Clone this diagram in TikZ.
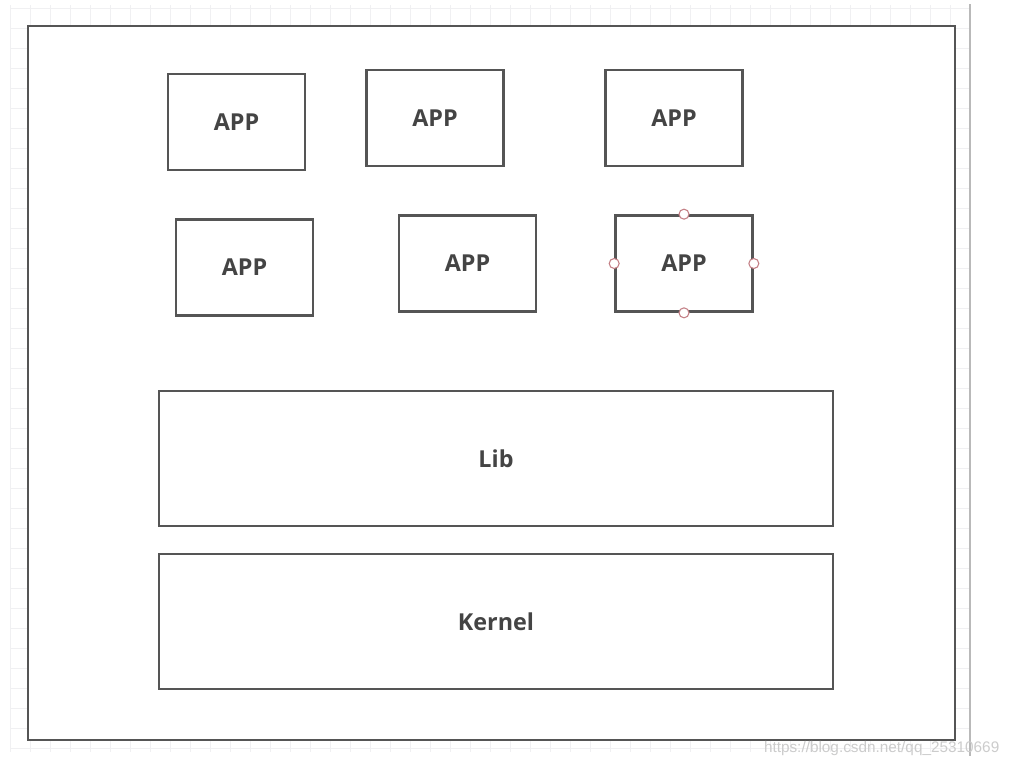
\documentclass[tikz,border=0pt]{standalone}
\usepackage{fontspec}
\setmainfont{Open Sans}
\newfontfamily\markfont{Liberation Sans}
\usepackage{tikz}
\usetikzlibrary{
  positioning,
}
\definecolor{boxgray}{RGB}{85, 85, 85}
\definecolor{labelgray}{RGB}{68, 68, 68}
\definecolor{gridgray}{RGB}{240, 240, 242}
\definecolor{handlered}{RGB}{196, 128, 134}
\tikzstyle{box} = [
  draw=boxgray,
  line width=2pt,
  fill=white,
  inner sep=0pt,
  font=\fontsize{17.5}{20}\selectfont\bfseries,
  text=labelgray,
]
\tikzstyle{appbox} = [box, minimum width=102.75pt, minimum height=72pt]
\tikzstyle{layerbox} = [box, minimum width=505.5pt, minimum height=101.25pt]
\tikzstyle{handle} = [
  circle,
  draw=handlered,
  fill=white,
  line width=0.8pt,
  minimum size=7.5pt,
  inner sep=0pt,
]

\begin{document}
\begin{tikzpicture}[x=0.75pt, y=-0.75pt]
      \useasboundingbox (0, 0) rectangle (1012, 768);
      \fill[white] (0, 0) rectangle (1012, 768);

      \foreach \gx in {10, 30, ..., 970}
        \draw[gridgray, line width=0.6pt] (\gx, 5) -- (\gx, 752);
      \foreach \gy in {8, 28, ..., 748}
        \draw[gridgray, line width=0.6pt] (10, \gy) -- (970, \gy);

      \draw[gray!55, line width=2.2pt] (970, 4) -- (970, 756);

      \draw[boxgray, line width=2pt, fill=white] (28, 26) rectangle (955, 740);

      \node [appbox] (app1) at (236.5, 122) {APP};
      \node [appbox] (app2) at (435, 118) {APP};
      \node [appbox] (app3) at (674, 118) {APP};

      \node [appbox] (app4) at (244.5, 267.5) {APP};
      \node [appbox] (app5) at (467.5, 263.5) {APP};
      \node [appbox] (app6) at (684, 263.5) {APP};

      \foreach \side in {north, south, east, west}
        \node [handle] (app6-\side) at (app6.\side) {};

      \node [layerbox] (lib) at (496, 458.5) {Lib};
      \node [layerbox] (kernel) at (496, 621.5) {Kernel};

      \node [anchor=east, text=gray!40, font=\markfont\fontsize{11.5}{13}\selectfont] (mark) at (1004, 749) {https://blog.csdn.net/qq\_25310669};
    \end{tikzpicture}
\end{document}
